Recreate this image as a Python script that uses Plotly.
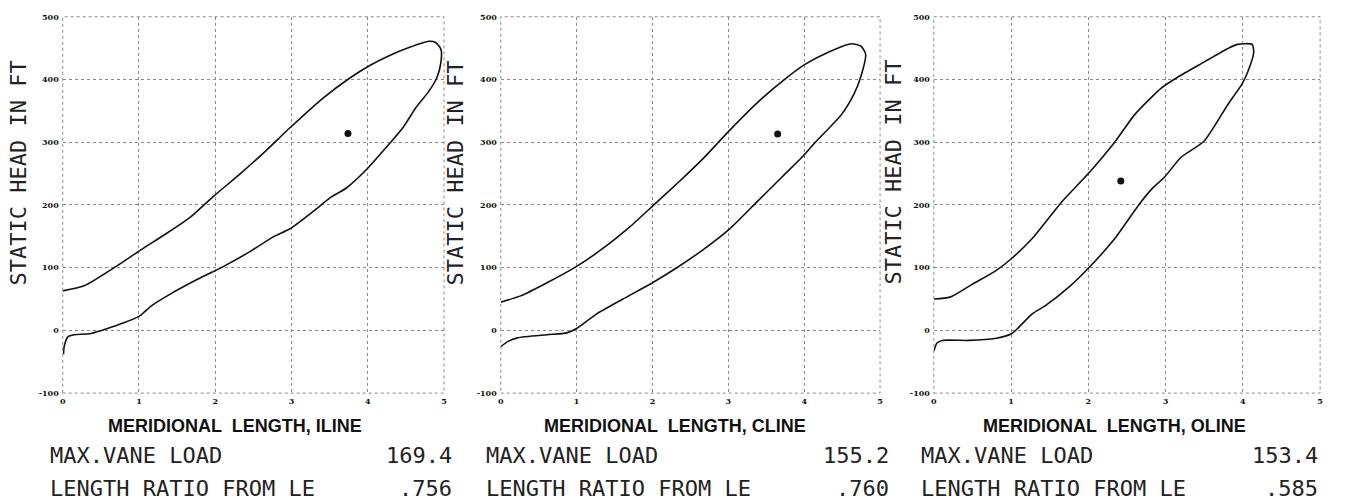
import plotly.graph_objects as go

# ---------------- data ----------------
x_ticks = [0, 1, 2, 3, 4, 5]
y_ticks = [-100, 0, 100, 200, 300, 400, 500]

line_names = ["ILINE", "CLINE", "OLINE"]
max_vane_load = ["169.4", "155.2", "153.4"]
length_ratio = [".756", ".760", ".585"]

# ILINE loop (upper side -> tip -> lower side back to LE)
iline_x = [0.0, 0.28, 0.70, 1.02, 1.33, 1.67, 1.98, 2.33, 2.67, 2.98, 3.41, 3.76, 4.02, 4.28, 4.54, 4.80,
           4.89, 4.96, 4.96, 4.91, 4.80, 4.63, 4.46, 4.28, 3.98, 3.72, 3.50, 3.37, 2.98, 2.76, 2.46, 2.11,
           1.76, 1.37, 1.15, 1.02, 0.80, 0.37, 0.15, 0.07, 0.02, 0.01]
iline_y = [63, 71, 102, 128, 152, 180, 214, 250, 287, 323, 370, 402, 422, 438, 451, 461,
           459, 448, 428, 404, 381, 355, 323, 297, 256, 227, 211, 198, 162, 149, 126, 102,
           81, 55, 38, 24, 12, -5, -7, -10, -25, -38]
iline_pt_x = [3.74]
iline_pt_y = [314]

# CLINE loop
cline_x = [0.0, 0.26, 0.61, 1.00, 1.35, 1.70, 2.00, 2.35, 2.66, 3.01, 3.40, 3.75, 4.01, 4.31, 4.62,
           4.75, 4.81, 4.75, 4.66, 4.49, 4.14, 3.97, 3.71, 3.37, 3.01, 2.66, 2.31, 2.00, 1.61, 1.26,
           1.00, 0.87, 0.61, 0.22, 0.09, 0.0]
cline_y = [45, 55, 76, 102, 131, 165, 198, 237, 273, 318, 365, 401, 424, 443, 457,
           453, 440, 406, 378, 344, 299, 276, 245, 204, 161, 128, 99, 76, 50, 26,
           3, -4, -7, -12, -18, -26]
cline_pt_x = [3.65]
cline_pt_y = [313]

# OLINE loop
oline_x = [0.0, 0.21, 0.49, 0.79, 1.01, 1.27, 1.65, 2.00, 2.34, 2.60, 2.94, 3.16, 3.50, 3.80, 3.93,
           4.12, 4.14, 4.06, 3.99, 3.80, 3.50, 3.20, 2.99, 2.81, 2.64, 2.34, 2.00, 1.74, 1.44, 1.27,
           1.01, 0.79, 0.45, 0.11, 0.04, 0.0]
oline_y = [50, 53, 73, 94, 115, 146, 204, 250, 300, 344, 386, 404, 428, 449, 456,
           456, 443, 411, 393, 359, 302, 276, 245, 224, 198, 146, 99, 68, 39, 26,
           -5, -13, -16, -16, -20, -33]
oline_pt_x = [2.42]
oline_pt_y = [238]

curves = [(iline_x, iline_y, iline_pt_x, iline_pt_y),
          (cline_x, cline_y, cline_pt_x, cline_pt_y),
          (oline_x, oline_y, oline_pt_x, oline_pt_y)]

# ---------------- layout geometry ----------------
W, H = 1350, 501
px_left = [60, 500, 935]
px_right = [443, 881, 1323]
px_top, px_bottom = 12, 396
ytitle_x = [16, 455, 895]
xtitle_cx = [233, 675, 1116]
text_left = [45, 483, 920]
text_right = [453, 892, 1323]

MONO = "DejaVu Sans Mono"


def fx(p):
    return p / W


def fy(p):
    return 1 - p / H


fig = go.Figure()
for i, (cx, cy, px, py) in enumerate(curves):
    xa = "x" if i == 0 else f"x{i+1}"
    ya = "y" if i == 0 else f"y{i+1}"
    fig.add_trace(go.Scatter(x=cx, y=cy, mode="lines",
                             line=dict(color="#111", width=1.6, shape="spline", smoothing=0.6),
                             xaxis=xa, yaxis=ya, showlegend=False, hoverinfo="skip"))
    fig.add_trace(go.Scatter(x=px, y=py, mode="markers", marker=dict(color="#111", size=7),
                             xaxis=xa, yaxis=ya, showlegend=False, hoverinfo="skip"))

tickfont = dict(family="DejaVu Serif", size=8, color="#111", weight="bold")
for i in range(3):
    sfx = "" if i == 0 else str(i + 1)
    fig.layout["xaxis" + sfx] = dict(
        domain=[fx(px_left[i]), fx(px_right[i])], anchor="y" + sfx, range=[0, 5],
        tickvals=x_ticks, ticktext=[str(v) for v in x_ticks], tickfont=tickfont,
        showgrid=True, gridcolor="#8a8a8a", griddash="dot", gridwidth=1,
        zeroline=False, showline=False, ticks="", ticklabelstandoff=2, fixedrange=True)
    fig.layout["yaxis" + sfx] = dict(
        domain=[fy(px_bottom), fy(px_top)], anchor="x" + sfx, range=[-100, 500],
        tickvals=y_ticks, ticktext=[str(v) for v in y_ticks], tickfont=tickfont,
        showgrid=True, gridcolor="#8a8a8a", griddash="dot", gridwidth=1,
        zeroline=False, showline=False, ticks="", ticklabelstandoff=3, fixedrange=True)
    fig.add_shape(type="rect", xref=f"x{sfx} domain", yref=f"y{sfx} domain", x0=0, x1=1, y0=0, y1=1,
                  line=dict(color="#8a8a8a", width=1, dash="dot"))
    # y title
    fig.add_annotation(text="STATIC HEAD IN FT", xref="paper", yref="paper", x=fx(ytitle_x[i]), y=fy(171),
                       textangle=-90, showarrow=False, xanchor="center", yanchor="middle",
                       font=dict(family=MONO, size=22, color="#222"))
    # x title
    fig.add_annotation(text=f"MERIDIONAL  LENGTH, {line_names[i]}", xref="paper", yref="paper",
                       x=fx(xtitle_cx[i]), y=fy(430), showarrow=False, xanchor="center", yanchor="middle",
                       font=dict(family="Liberation Sans", size=18, color="#111", weight="bold"))
    # stats lines
    for j, (lab, val) in enumerate([("MAX.VANE LOAD", max_vane_load[i]), ("LENGTH RATIO FROM LE", length_ratio[i])]):
        yy = fy(460 + 33 * j)
        fig.add_annotation(text=lab, xref="paper", yref="paper", x=fx(text_left[i]), y=yy, showarrow=False,
                           xanchor="left", yanchor="middle", font=dict(family=MONO, size=22, color="#222"))
        fig.add_annotation(text=val, xref="paper", yref="paper", x=fx(text_right[i]), y=yy, showarrow=False,
                           xanchor="right", yanchor="middle", font=dict(family=MONO, size=22, color="#222"))

fig.update_layout(width=W, height=H, margin=dict(l=0, r=0, t=0, b=0),
                  paper_bgcolor="white", plot_bgcolor="white")
fig.write_html("out.html")
